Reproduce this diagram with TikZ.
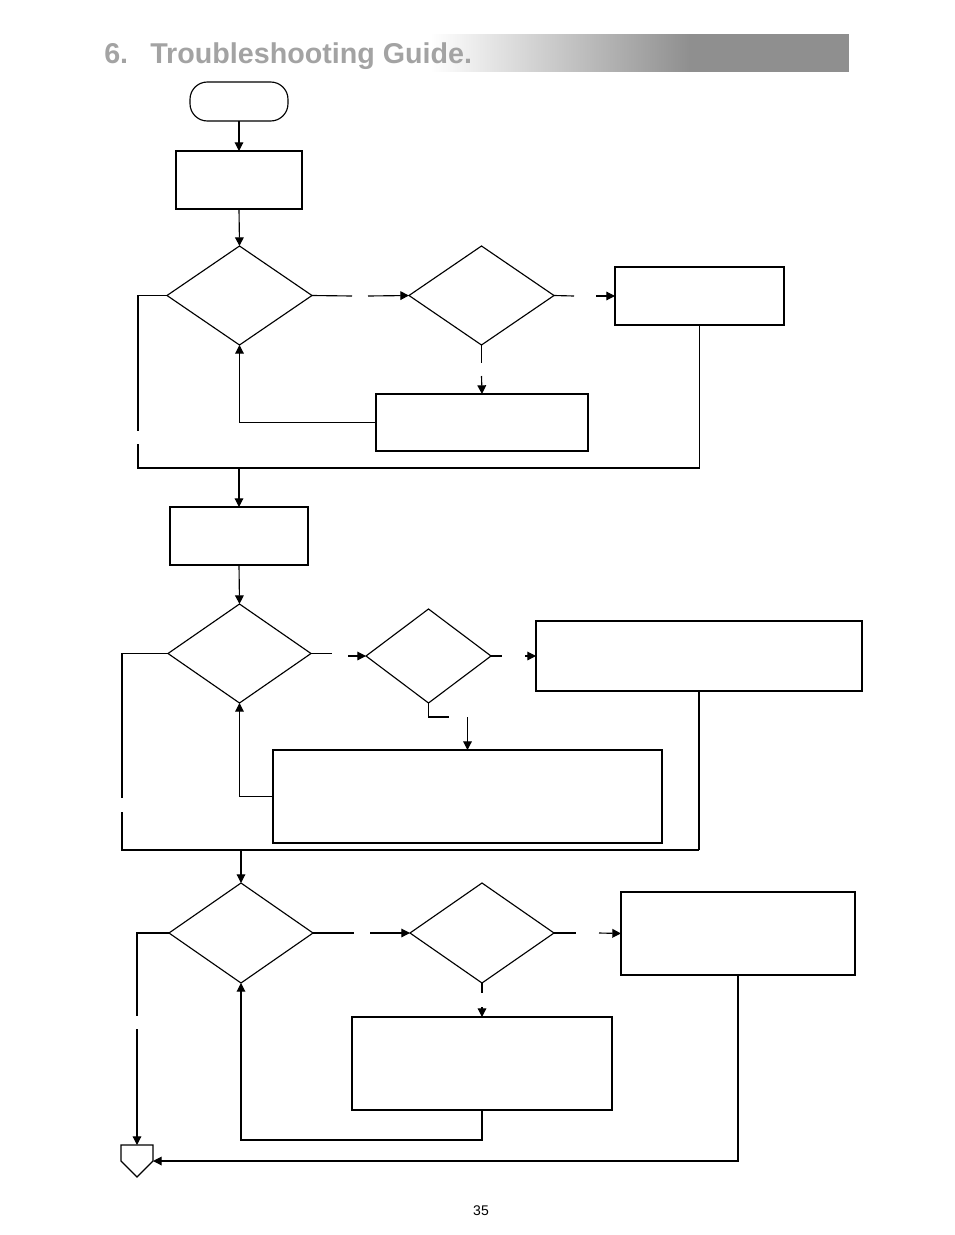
\documentclass[tikz,border=0pt]{standalone}
\usepackage{fontspec}
\setmainfont{Liberation Sans}
\usetikzlibrary{shapes.geometric,arrows.meta}
\definecolor{bargray}{HTML}{8F8F8F}
\definecolor{titlegray}{HTML}{A3A3A3}
\tikzset{
  ln/.style={line width=0.85pt},
  arr/.style={line width=0.85pt,-{Triangle[length=6.5pt,width=6.5pt]}},
  boxn/.style={draw,line width=0.85pt,rectangle,inner sep=0pt,outer sep=0pt},
  dia/.style={draw,line width=0.85pt,diamond,inner sep=0pt,outer sep=0pt},
}
\begin{document}
\begin{tikzpicture}[x=0.75pt,y=-0.75pt]
\useasboundingbox (0,0) rectangle (954,1235);
% title bar
\shade[left color=white,right color=bargray] (430,34) rectangle (690,71.7);
\fill[bargray] (689.5,34) rectangle (849,71.7);
\node[anchor=base west,inner sep=0pt,text=titlegray,font=\fontsize{21.5pt}{24pt}\selectfont\bfseries] (tnum) at (104,63) {6.};
\node[anchor=base west,inner sep=0pt,text=titlegray,font=\fontsize{21.5pt}{24pt}\selectfont\bfseries] (ttl) at (150,63) {Troubleshooting Guide.};
% nodes
\node[draw,line width=0.85pt,rectangle,rounded corners=13pt,minimum width=73.5pt,minimum height=29.25pt,inner sep=0pt,outer sep=0pt] (start) at (239,101.5) {};
\node[boxn,minimum width=94.5pt,minimum height=43.5pt] (b1) at (239,180) {};
\node[dia,minimum width=108.75pt,minimum height=74.25pt] (d1) at (239.5,295.5) {};
\node[dia,minimum width=108.75pt,minimum height=74.25pt] (d2) at (481.5,295.5) {};
\node[boxn,minimum width=126.75pt,minimum height=43.5pt] (r1) at (699.5,296) {};
\node[boxn,minimum width=159pt,minimum height=42.75pt] (m1) at (482,422.5) {};
\node[boxn,minimum width=103.5pt,minimum height=43.5pt] (b2) at (239,536) {};
\node[dia,minimum width=107.25pt,minimum height=74.25pt] (d3) at (239.5,653.5) {};
\node[dia,minimum width=93.75pt,minimum height=70.5pt] (d4) at (428.5,656) {};
\node[boxn,minimum width=244.5pt,minimum height=52.5pt] (r2) at (699,656) {};
\node[boxn,minimum width=291.75pt,minimum height=69.75pt] (m2) at (467.5,796.5) {};
\node[dia,minimum width=108pt,minimum height=75pt] (d5) at (241,933) {};
\node[dia,minimum width=108pt,minimum height=75pt] (d6) at (482,933) {};
\node[boxn,minimum width=175.5pt,minimum height=62.25pt] (r3) at (738,933.5) {};
\node[boxn,minimum width=195pt,minimum height=69.75pt] (m3) at (482,1063.5) {};
% off-page connector
\coordinate (pentop) at (137,1145);
\coordinate (penright) at (153,1161);
\draw[line width=0.85pt] (121,1145) -- (153,1145) -- (153,1161) -- (137,1177) -- (121,1161) -- cycle;
% page number
\node[font=\fontsize{10.5pt}{12pt}\selectfont,inner sep=0pt] (pg) at (481,1211) {35};
% gap coordinates
\coordinate (g1a) at (352,296);   \coordinate (g1b) at (368,296);
\coordinate (g2a) at (574,296);   \coordinate (g2b) at (596,296);
\coordinate (g3a) at (481.5,363); \coordinate (g3b) at (481.5,376);
\coordinate (g4a) at (138,431);   \coordinate (g4b) at (138,444);
\coordinate (j1) at (699.5,468);
\coordinate (g5a) at (332,653.5); \coordinate (g5b) at (348,656);
\coordinate (g6a) at (502,656);   \coordinate (g6b) at (525,656);
\coordinate (g7a) at (449,717);   \coordinate (g7b) at (467.5,717);
\coordinate (g8a) at (122,798);   \coordinate (g8b) at (122,812);
\coordinate (j2) at (699,850);
\coordinate (g9a) at (354,933);   \coordinate (g9b) at (370,933);
\coordinate (g10a) at (576,933);  \coordinate (g10b) at (599,933);
\coordinate (g11a) at (482,993);  \coordinate (g11b) at (482,1007);
\coordinate (c19) at (482,1140);
\coordinate (g12a) at (137,1016); \coordinate (g12b) at (137,1029);
% connectors: section 1
\draw[arr] (start.south) -- (b1.north);
\draw[arr] (b1.south) -- (d1.north);
\draw[ln] (d1.east) -- (g1a);
\draw[arr] (g1b) -- (d2.west);
\draw[ln] (d2.east) -- (g2a);
\draw[arr] (g2b) -- (r1.west);
\draw[ln] (d2.south) -- (g3a);
\draw[arr] (g3b) -- (m1.north);
\draw[arr] (m1.west) -| (d1.south);
\draw[ln] (d1.west) -| (g4a);
\draw[ln] (g4b) |- (j1);
\draw[ln] (r1.south) -- (j1);
\draw[arr] (j1 -| b2.north) -- (b2.north);
% section 2
\draw[arr] (b2.south) -- (d3.north);
\draw[ln] (d3.east) -- (g5a);
\draw[arr] (g5b) -- (d4.west);
\draw[ln] (d4.east) -- (g6a);
\draw[arr] (g6b) -- (r2.west);
\draw[ln] (d4.south) |- (g7a);
\draw[arr] (g7b) -- (m2.north);
\draw[arr] (m2.west) -| (d3.south);
\draw[ln] (d3.west) -| (g8a);
\draw[ln] (g8b) |- (j2);
\draw[ln] (r2.south) -- (j2);
\draw[arr] (j2 -| d5.north) -- (d5.north);
% section 3
\draw[ln] (d5.east) -- (g9a);
\draw[arr] (g9b) -- (d6.west);
\draw[ln] (d6.east) -- (g10a);
\draw[arr] (g10b) -- (r3.west);
\draw[ln] (d6.south) -- (g11a);
\draw[arr] (g11b) -- (m3.north);
\draw[arr] (m3.south) -- (c19) -| (d5.south);
\draw[ln] (d5.west) -| (g12a);
\draw[arr] (g12b) -- (pentop);
\draw[arr] (r3.south) |- (penright);
\end{tikzpicture}
\end{document}
